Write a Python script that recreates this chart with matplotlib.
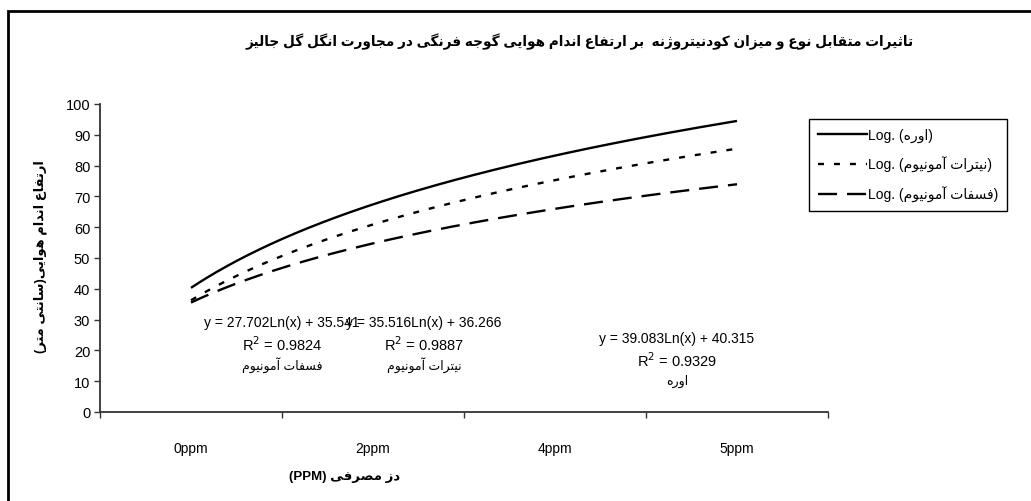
import numpy as np
import matplotlib
matplotlib.use('Agg')
import matplotlib.pyplot as plt
from matplotlib.lines import Line2D
from matplotlib.patches import Rectangle

plt.rcParams['font.family'] = ['Liberation Sans', 'DejaVu Sans']
plt.rcParams['lines.scale_dashes'] = False

# داده ها
categories = ['0ppm', '2ppm', '4ppm', '5ppm']
series_names = ['اوره', 'نیترات آمونیوم', 'فسفات آمونیوم']
coef_a = [39.083, 35.516, 27.702]
coef_b = [40.315, 36.266, 35.541]
r2_values = ['0.9329', '0.9887', '0.9824']
y_ticks = list(range(0, 101, 10))

title_text = 'تاثیرات متقابل نوع و میزان کودنیتروژنه  بر ارتفاع اندام هوایی گوجه فرنگی در مجاورت انگل گل جالیز'
ylabel_text = 'ارتفاع اندام هوایی(سانتی متر)'
xlabel_text = 'دز مصرفی'

# شکل دادن حروف فارسی (isolated, final, initial, medial)
FORMS = {
    '\u0622': ('\uFE81', '\uFE82', None, None),
    '\u0627': ('\uFE8D', '\uFE8E', None, None),
    '\u0628': ('\uFE8F', '\uFE90', '\uFE91', '\uFE92'),
    '\u067E': ('\uFB56', '\uFB57', '\uFB58', '\uFB59'),
    '\u062A': ('\uFE95', '\uFE96', '\uFE97', '\uFE98'),
    '\u062B': ('\uFE99', '\uFE9A', '\uFE9B', '\uFE9C'),
    '\u062C': ('\uFE9D', '\uFE9E', '\uFE9F', '\uFEA0'),
    '\u0686': ('\uFB7A', '\uFB7B', '\uFB7C', '\uFB7D'),
    '\u062D': ('\uFEA1', '\uFEA2', '\uFEA3', '\uFEA4'),
    '\u062E': ('\uFEA5', '\uFEA6', '\uFEA7', '\uFEA8'),
    '\u062F': ('\uFEA9', '\uFEAA', None, None),
    '\u0630': ('\uFEAB', '\uFEAC', None, None),
    '\u0631': ('\uFEAD', '\uFEAE', None, None),
    '\u0632': ('\uFEAF', '\uFEB0', None, None),
    '\u0698': ('\uFB8A', '\uFB8B', None, None),
    '\u0633': ('\uFEB1', '\uFEB2', '\uFEB3', '\uFEB4'),
    '\u0634': ('\uFEB5', '\uFEB6', '\uFEB7', '\uFEB8'),
    '\u0635': ('\uFEB9', '\uFEBA', '\uFEBB', '\uFEBC'),
    '\u0636': ('\uFEBD', '\uFEBE', '\uFEBF', '\uFEC0'),
    '\u0637': ('\uFEC1', '\uFEC2', '\uFEC3', '\uFEC4'),
    '\u0638': ('\uFEC5', '\uFEC6', '\uFEC7', '\uFEC8'),
    '\u0639': ('\uFEC9', '\uFECA', '\uFECB', '\uFECC'),
    '\u063A': ('\uFECD', '\uFECE', '\uFECF', '\uFED0'),
    '\u0641': ('\uFED1', '\uFED2', '\uFED3', '\uFED4'),
    '\u0642': ('\uFED5', '\uFED6', '\uFED7', '\uFED8'),
    '\u06A9': ('\uFB8E', '\uFB8F', '\uFB90', '\uFB91'),
    '\u06AF': ('\uFB92', '\uFB93', '\uFB94', '\uFB95'),
    '\u0644': ('\uFEDD', '\uFEDE', '\uFEDF', '\uFEE0'),
    '\u0645': ('\uFEE1', '\uFEE2', '\uFEE3', '\uFEE4'),
    '\u0646': ('\uFEE5', '\uFEE6', '\uFEE7', '\uFEE8'),
    '\u0648': ('\uFEED', '\uFEEE', None, None),
    '\u0647': ('\uFEE9', '\uFEEA', '\uFEEB', '\uFEEC'),
    '\u06CC': ('\uFBFC', '\uFBFD', '\uFBFE', '\uFBFF'),
}
MIRROR = {'(': ')', ')': '('}


def fa(text):
    out = []
    for i, ch in enumerate(text):
        if ch not in FORMS:
            out.append(MIRROR.get(ch, ch))
            continue
        prev = text[i - 1] if i > 0 else ''
        nxt = text[i + 1] if i + 1 < len(text) else ''
        cp = prev in FORMS and FORMS[prev][2] is not None
        cn = FORMS[ch][2] is not None and nxt in FORMS
        iso, fin, ini, med = FORMS[ch]
        if cp and cn:
            out.append(med)
        elif cp:
            out.append(fin)
        elif cn:
            out.append(ini)
        else:
            out.append(iso)
    return ''.join(reversed(out))


W, H = 1031, 502
fig = plt.figure(figsize=(W / 100, H / 100), dpi=100)
ax = fig.add_axes([100 / W, 1 - 413 / H, 728 / W, 308 / H])

styles = ['-', (0, (4.3, 7.2)), (0, (13.7, 7.2))]
xs = np.linspace(0, len(categories) - 1, 200)
for a, b, ls in zip(coef_a, coef_b, styles):
    ax.plot(xs, a * np.log(xs + 1) + b, color='black', lw=1.7, linestyle=ls,
            solid_capstyle='butt', dash_capstyle='butt')

ax.set_xlim(-0.5, len(categories) - 0.5)
ax.set_ylim(0, 100)
ax.set_yticks(y_ticks)
ax.set_xticks(np.arange(len(categories) + 1) - 0.5)
ax.set_xticklabels([])
ax.set_xticks(np.arange(len(categories)), minor=True)
ax.set_xticklabels(categories, minor=True)
ax.tick_params(axis='x', which='minor', length=0, pad=21, labelsize=10)
ax.tick_params(axis='x', which='major', length=4, width=1, color='#333333')
ax.tick_params(axis='y', length=4, width=1, color='#333333', labelsize=10.5, pad=3)
for s in ['top', 'right']:
    ax.spines[s].set_visible(False)
for s in ['left', 'bottom']:
    ax.spines[s].set_color('#333333')
    ax.spines[s].set_linewidth(1.3)

# معادلات خط روند
eq_pos = [(677, 339), (424, 323), (282, 323)]
for i, (px, py) in enumerate(eq_pos):
    fx, fy = px / W, 1 - py / H
    fig.text(fx, fy, f'y = {coef_a[i]:.3f}Ln(x) + {coef_b[i]:.3f}', ha='center', va='center', fontsize=10)
    fig.text(fx, fy - 22 / H, f'R$^2$ = {r2_values[i]}', ha='center', va='center', fontsize=10.5)
    fig.text(fx, fy - 42 / H, fa(series_names[i]), ha='center', va='center', fontsize=9)

fig.text(580 / W, 1 - 42 / H, fa(title_text), ha='center', va='center', fontsize=9.8, fontweight='bold')
fig.text(40 / W, 1 - 257 / H, fa(ylabel_text), ha='center', va='center', rotation=90,
         fontsize=9.4, fontweight='bold')
fig.text(345 / W, 1 - 477 / H, '(PPM) ' + fa(xlabel_text), ha='center', va='center',
         fontsize=9.5, fontweight='bold')

handles = [Line2D([], [], color='black', lw=1.7, linestyle=ls) for ls in styles]
labels = ['Log. (' + fa(n) + ')' for n in series_names]
leg = fig.legend(handles, labels, loc='upper left', bbox_to_anchor=(809 / W, 1 - 120 / H),
                 frameon=True, fancybox=False, edgecolor='black', framealpha=1,
                 fontsize=10, handlelength=3.5, handletextpad=0.1, labelspacing=1.0,
                 borderpad=0.65, borderaxespad=0)
leg.get_frame().set_linewidth(1.0)

fig.patches.append(Rectangle((8 / W, -0.1), 1.2, 1 - 12 / H + 0.1, transform=fig.transFigure,
                             fill=False, edgecolor='black', lw=2))

fig.savefig('out.png', dpi=100)
